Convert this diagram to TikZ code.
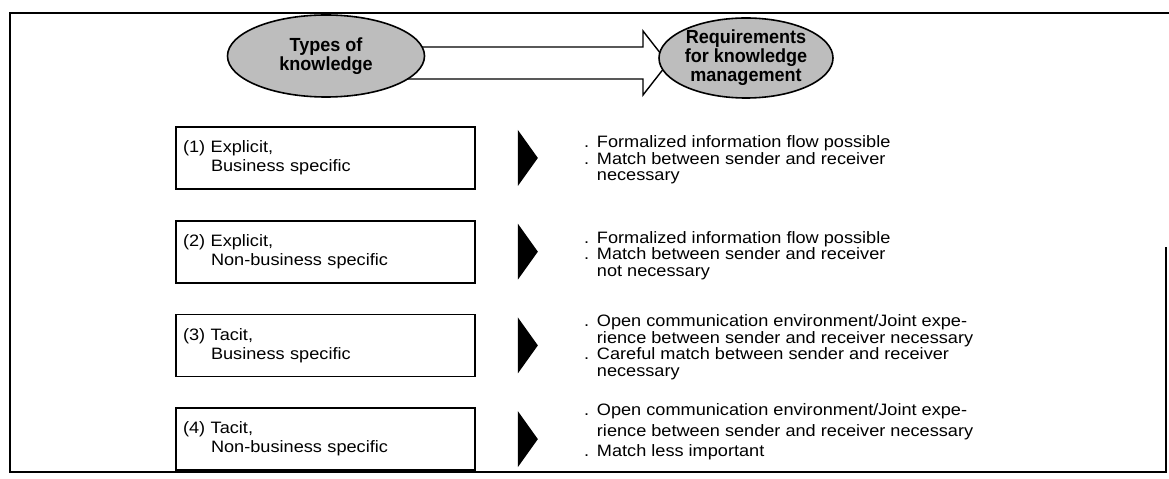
\documentclass[tikz,border=0pt]{standalone}
\usepackage{fontspec}
\setmainfont{Liberation Sans}[FakeStretch=1.1]
\newfontfamily\headfont{Liberation Sans}[FakeStretch=0.95]
\usepackage{tikz}
\usetikzlibrary{shapes,positioning,chains}
\definecolor{speckle}{gray}{0.74}
\tikzstyle{kellipse}=[ellipse, draw=black, line width=1.6bp, fill=speckle, align=center, inner sep=0pt,
        font=\headfont\bfseries\fontsize{19bp}{19bp}\selectfont]
\tikzstyle{kbox}=[rectangle, draw=black, line width=1.7bp, text width=285bp, minimum height=62bp, inner sep=7bp,
        align=left, font=\fontsize{16.5bp}{19bp}\selectfont]
\tikzstyle{ktext}=[inner sep=0pt, align=left, font=\fontsize{16.5bp}{16.5bp}\selectfont]
\tikzstyle{ktri}=[fill=black]
\newcommand{\kdot}{\makebox[0.78em][l]{.}}
\newcommand{\kind}{\hspace*{0.78em}}

\begin{document}
\begin{tikzpicture}[x=1bp, y=1bp, start chain=rows going below, node distance=30bp]
\useasboundingbox (0,0) rectangle (1169,-479);
\draw[line width=2bp] (1169,-13) -- (10,-13) -- (10,-472) -- (1166,-472) -- (1166,-247);
\coordinate (tip) at (668,-63);
\draw[line width=1.4bp, fill=white] (tip) -- ++(-25,32) -- ++(0,-16) -- ++(-265,0) -- ++(0,-32) -- ++(265,0) -- ++(0,-16) -- cycle;
\node [kellipse, minimum width=197bp, minimum height=82bp] (types) at (326,-56) {Types of\\knowledge};
\node [kellipse, minimum width=174bp, minimum height=80bp] (reqs) at (746,-58) {Requirements\\for knowledge\\management};
\node [kbox, on chain=rows] (b1) at (325.5,-158) {(1) Explicit,\\\hspace*{1.7em}Business specific};
\node [kbox, on chain=rows] (b2) {(2) Explicit,\\\hspace*{1.7em}Non-business specific};
\node [kbox, on chain=rows] (b3) {(3) Tacit,\\\hspace*{1.7em}Business specific};
\node [kbox, on chain=rows] (b4) {(4) Tacit,\\\hspace*{1.7em}Non-business specific};
\fill[ktri] ([xshift=42bp,yshift=28bp]b1.east) -- ++(20,-28) -- ++(-20,-28) -- cycle;
\fill[ktri] ([xshift=42bp,yshift=28bp]b2.east) -- ++(20,-28) -- ++(-20,-28) -- cycle;
\fill[ktri] ([xshift=42bp,yshift=28bp]b3.east) -- ++(20,-28) -- ++(-20,-28) -- cycle;
\fill[ktri] ([xshift=42bp,yshift=28bp]b4.east) -- ++(20,-28) -- ++(-20,-28) -- cycle;
\node [ktext, right=108bp of b1, yshift=-2bp] (r1) {\kdot Formalized information flow possible\\
\kdot Match between sender and receiver\\
\kind necessary};
\node [ktext, right=108bp of b2, yshift=-4bp] (r2) {\kdot Formalized information flow possible\\
\kdot Match between sender and receiver\\
\kind not necessary};
\node [ktext, right=108bp of b3, yshift=-2bp] (r3) {\kdot Open communication environment/Joint expe-\\
\kind rience between sender and receiver necessary\\
\kdot Careful match between sender and receiver\\
\kind necessary};
\node [ktext, right=108bp of b4, yshift=7bp, font=\fontsize{16.5bp}{20.5bp}\selectfont] (r4) {\kdot Open communication environment/Joint expe-\\
\kind rience between sender and receiver necessary\\
\kdot Match less important};
\end{tikzpicture}
\end{document}
